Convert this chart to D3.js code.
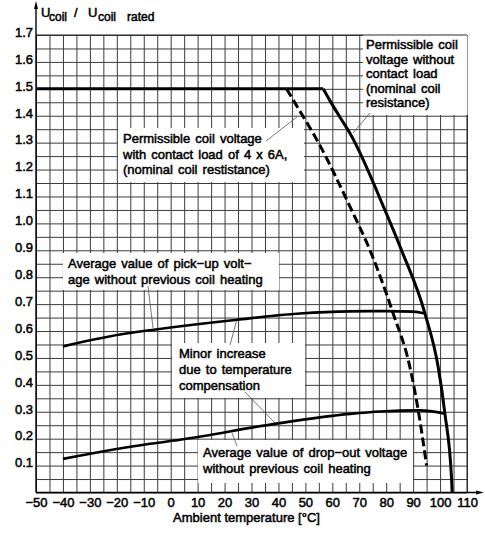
<!DOCTYPE html>
<html>
<head>
<meta charset="utf-8">
<script src="https://cdn.jsdelivr.net/npm/d3@7"></script>
<style>
  html, body { margin: 0; padding: 0; background: #fff; }
  svg { display: block; }
  text { font-family: "Liberation Sans", Arial, sans-serif; fill: #000; }
</style>
</head>
<body>
<svg id="chart" width="485" height="534"></svg>
<script>
// ---------------- data ----------------
const xTicks = [-50, -40, -30, -20, -10, 0, 10, 20, 30, 40, 50, 60, 70, 80, 90, 100, 110];
const xTickLabels = ["\u221250", "\u221240", "\u221230", "\u221220", "\u221210", "0", "10", "20", "30", "40", "50", "60", "70", "80", "90", "100", "110"];
const yTicks = [0.1, 0.2, 0.3, 0.4, 0.5, 0.6, 0.7, 0.8, 0.9, 1.0, 1.1, 1.2, 1.3, 1.4, 1.5, 1.6, 1.7];
const yTickLabels = ["0.1", "0.2", "0.3", "0.4", "0.5", "0.6", "0.7", "0.8", "0.9", "1.0", "1.1", "1.2", "1.3", "1.4", "1.5", "1.6", "1.7"];

// Permissible coil voltage without contact load (solid)
const noLoadT = [-50, 56.6, 59, 63.5, 66.6, 79.5, 85.7, 94.4, 99.3, 101.8, 104.3, 104.5];
const noLoadV = [1.5, 1.5, 1.458, 1.384, 1.334, 1.05, 0.9, 0.665, 0.466, 0.293, 0.045, 0.0];
// Permissible coil voltage with contact load 4 x 6A (dashed)
const loadT = [43, 45.5, 55.4, 66.6, 74, 82.6, 88.8, 91.9, 95];
const loadV = [1.5, 1.458, 1.29, 1.061, 0.9, 0.665, 0.466, 0.305, 0.10];
// Average pick-up voltage
const pickT = [-40, -18.8, -7.7, 24.7, 48, 66.6, 80, 90, 94.4];
const pickV = [0.543, 0.587, 0.603, 0.642, 0.665, 0.673, 0.674, 0.672, 0.665];
// Average drop-out voltage
const dropT = [-40, -7.7, 3.5, 38.7, 66.6, 77.7, 92.5, 101.8];
const dropV = [0.125, 0.181, 0.196, 0.255, 0.292, 0.301, 0.305, 0.293];

// ---------------- layout ----------------
const svg = d3.select("#chart");
const x = d3.scaleLinear().domain([-50, 110]).range([36, 467]);
const y = d3.scaleLinear().domain([0, 1.7]).range([492.5, 35]);
const TS = 0.5; // text stroke to mimic heavy CAD lettering

const zip = (a, b) => a.map((d, i) => [d, b[i]]);

// grid
const gx = d3.range(-50, 110.001, 5);
const gy = d3.range(0, 1.7001, 0.05);
const grid = svg.append("g");
grid.append("g")
  .attr("transform", `translate(0,${y(0)})`)
  .call(d3.axisBottom(x).tickValues(gx).tickSize(-(y(0) - y(1.7))).tickFormat(""))
  .call(g => g.select(".domain").remove())
  .selectAll("line").attr("stroke", "#3c3c3c").attr("stroke-width", 1);
grid.append("g")
  .attr("transform", `translate(${x(-50)},0)`)
  .call(d3.axisLeft(y).tickValues(gy).tickSize(-(x(110) - x(-50))).tickFormat(""))
  .call(g => g.select(".domain").remove())
  .selectAll("line").attr("stroke", "#3c3c3c").attr("stroke-width", 1);
// border
svg.append("line").attr("x1", x(110)).attr("x2", x(110)).attr("y1", y(0)).attr("y2", y(1.7))
  .attr("stroke", "#222").attr("stroke-width", 1);
svg.append("line").attr("x1", x(-50)).attr("x2", x(110)).attr("y1", y(1.7)).attr("y2", y(1.7))
  .attr("stroke", "#222").attr("stroke-width", 1);

// annotation boxes (pixel layout)
const boxes = [
  { x0: 363, x1: 467.5, y0: 35.5, y1: 115, tx: 366, base: [49, 63.5, 78, 92.5, 107],
    lines: ["Permissible coil", "voltage without", "contact load", "(nominal coil", "resistance)"] },
  { x0: 118, x1: 304, y0: 128, y1: 182, tx: 123, base: [143, 158.5, 174],
    lines: ["Permissible coil voltage", "with contact load of 4 x 6A,", "(nominal coil restistance)"] },
  { x0: 63, x1: 279, y0: 253, y1: 290, tx: 68, base: [268, 283.5],
    lines: ["Average value of pick\u2212up volt\u2212", "age without previous coil heating"] },
  { x0: 172, x1: 305, y0: 343, y1: 398, tx: 179, base: [358, 374, 390],
    lines: ["Minor increase", "due to temperature", "compensation"] },
  { x0: 198, x1: 413, y0: 440, y1: 483, tx: 203, base: [457, 473],
    lines: ["Average value of drop\u2212out voltage", "without previous coil heating"] }
];
const leaders = [
  [370, 113, 353, 133],
  [266, 141, 297, 117],
  [148, 286, 153, 328],
  [230, 345, 237, 319],
  [245, 392, 275, 423],
  [237, 446, 232, 433]
];

svg.append("g").selectAll("rect").data(boxes).join("rect")
  .attr("x", d => d.x0).attr("y", d => d.y0)
  .attr("width", d => d.x1 - d.x0).attr("height", d => d.y1 - d.y0)
  .attr("fill", "#fff");

svg.append("g").selectAll("line").data(leaders).join("line")
  .attr("x1", d => d[0]).attr("y1", d => d[1]).attr("x2", d => d[2]).attr("y2", d => d[3])
  .attr("stroke", "#555").attr("stroke-width", 0.8);

const boxText = svg.append("g");
boxes.forEach(b => {
  b.lines.forEach((l, i) => {
    boxText.append("text").attr("x", b.tx).attr("y", b.base[i])
      .attr("font-size", 13).attr("stroke", "#000").attr("stroke-width", TS)
      .attr("word-spacing", 1.5)
      .text(l);
  });
});

// curves
const line = d3.line().x(d => x(d[0])).y(d => y(d[1]));
const noLoad = zip(noLoadT, noLoadV);
const load = zip(loadT, loadV);
const curves = svg.append("g").attr("fill", "none").attr("stroke", "#000").attr("stroke-linejoin", "round");
curves.append("path").attr("d", line.curve(d3.curveLinear)(noLoad.slice(0, 2))).attr("stroke-width", 3);
curves.append("path").attr("d", line.curve(d3.curveMonotoneX)(noLoad.slice(1))).attr("stroke-width", 3);
curves.append("path").attr("d", line.curve(d3.curveMonotoneX)(load))
  .attr("stroke-width", 3).attr("stroke-dasharray", "9,4");
curves.append("path").attr("d", line.curve(d3.curveMonotoneX)(zip(pickT, pickV))).attr("stroke-width", 2.6);
curves.append("path").attr("d", line.curve(d3.curveMonotoneX)(zip(dropT, dropV))).attr("stroke-width", 2.6);

// axes lines with arrows
svg.append("line").attr("x1", x(-50)).attr("x2", x(-50)).attr("y1", y(0)).attr("y2", 6)
  .attr("stroke", "#000").attr("stroke-width", 1.4);
svg.append("path").attr("d", `M${x(-50)},1 L${x(-50) - 2},9 L${x(-50) + 2},9 Z`).attr("fill", "#000");
svg.append("line").attr("x1", x(-50)).attr("x2", 477).attr("y1", y(0)).attr("y2", y(0))
  .attr("stroke", "#000").attr("stroke-width", 1.4);
svg.append("path").attr("d", `M484,${y(0)} L476,${y(0) - 2} L476,${y(0) + 2} Z`).attr("fill", "#000");

// tick labels via axes
const xa = svg.append("g").attr("transform", `translate(0,${y(0)})`)
  .call(d3.axisBottom(x).tickValues(xTicks).tickSize(0).tickPadding(5)
    .tickFormat((d, i) => xTickLabels[i]));
xa.select(".domain").remove();
xa.selectAll("text").attr("font-size", 13).attr("font-family", null)
  .attr("stroke", "#000").attr("stroke-width", TS).attr("dy", "0.71em");

const ya = svg.append("g").attr("transform", `translate(${x(-50)},0)`)
  .call(d3.axisLeft(y).tickValues(yTicks).tickSize(0).tickPadding(3)
    .tickFormat((d, i) => yTickLabels[i]));
ya.select(".domain").remove();
ya.selectAll("text").attr("font-size", 13).attr("font-family", null)
  .attr("stroke", "#000").attr("stroke-width", TS).attr("dy", "0.1em");

// axis titles
svg.append("text").attr("x", (x(-50) + x(110)) / 2 - 5).attr("y", 522).attr("text-anchor", "middle")
  .attr("font-size", 13).attr("stroke", "#000").attr("stroke-width", TS)
  .text("Ambient temperature [\u00B0C]");

const title = svg.append("g").attr("stroke", "#000").attr("stroke-width", TS);
title.append("text").attr("x", 41).attr("y", 17).attr("font-size", 13).text("U");
title.append("text").attr("x", 49).attr("y", 21).attr("font-size", 12).text("coil");
title.append("text").attr("x", 74).attr("y", 17).attr("font-size", 13).text("/");
title.append("text").attr("x", 88).attr("y", 17).attr("font-size", 13).text("U");
title.append("text").attr("x", 98).attr("y", 21).attr("font-size", 12).text("coil");
title.append("text").attr("x", 127).attr("y", 21).attr("font-size", 12).text("rated");
</script>
</body>
</html>
